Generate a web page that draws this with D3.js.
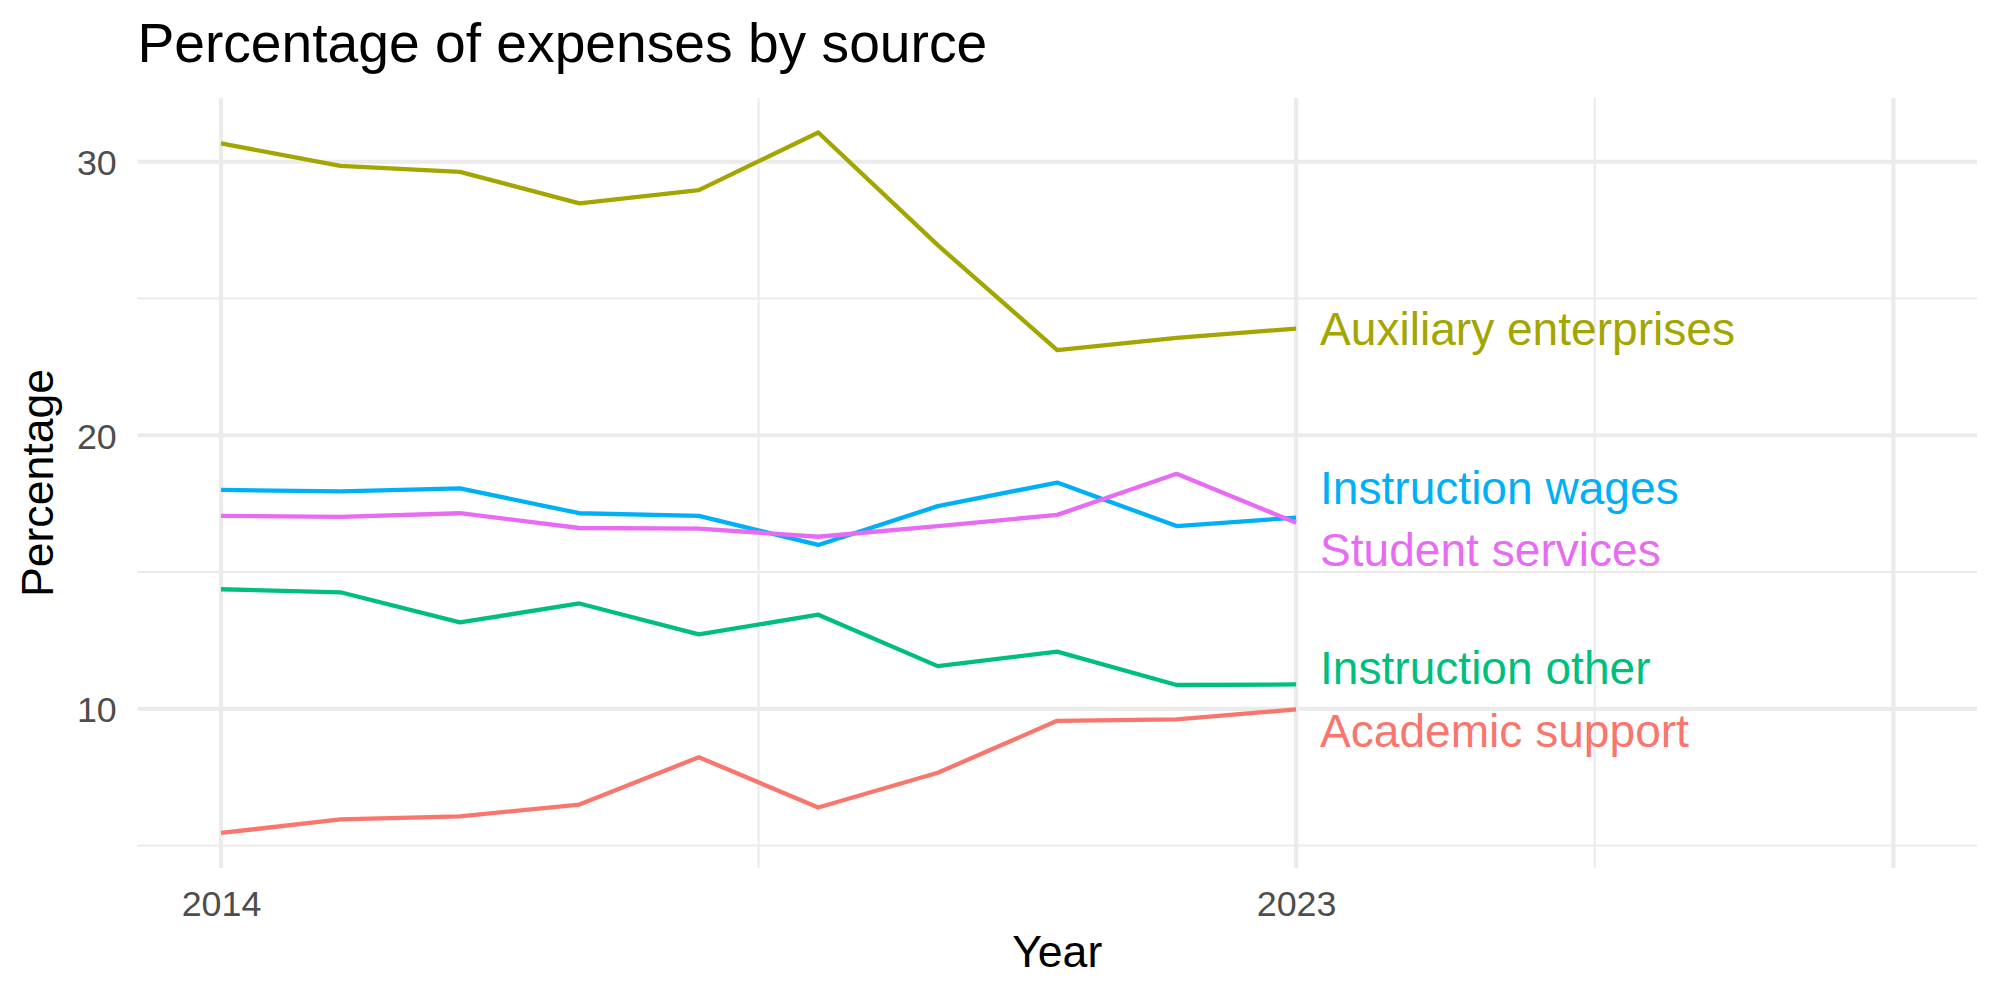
<!DOCTYPE html>
<html>
<head>
<meta charset="utf-8">
<script src="https://cdn.jsdelivr.net/npm/d3@7"></script>
<style>
  body { margin: 0; background: #fff; }
  text { font-family: "Liberation Sans", Arial, Helvetica, sans-serif; }
</style>
</head>
<body>
<svg id="chart"></svg>
<script>
// data
const years = [2014, 2015, 2016, 2017, 2018, 2019, 2020, 2021, 2022, 2023];
const academicSupport      = [5.46, 5.96, 6.07, 6.50, 8.23, 6.39, 7.66, 9.56, 9.61, 9.98];
const auxiliaryEnterprises = [30.67, 29.85, 29.63, 28.48, 28.96, 31.07, 26.95, 23.11, 23.56, 23.90];
const instructionOther     = [14.37, 14.26, 13.16, 13.85, 12.72, 13.44, 11.56, 12.09, 10.87, 10.89];
const instructionWages     = [18.00, 17.95, 18.06, 17.15, 17.05, 15.99, 17.41, 18.27, 16.68, 16.99];
const studentServices      = [17.05, 17.02, 17.15, 16.61, 16.59, 16.29, 16.68, 17.09, 18.59, 16.80];

const seriesNames = ["Academic support", "Auxiliary enterprises", "Instruction other", "Instruction wages", "Student services"];
const seriesValues = [academicSupport, auxiliaryEnterprises, instructionOther, instructionWages, studentServices];
const seriesColors = ["#F8766D", "#A3A500", "#00BF7D", "#00B0F6", "#E76BF3"];
// label positions (data units), set apart so they don't collide
const labelX = 2023.2;
const labelY = [9.22, 23.89, 11.52, 18.10, 15.83];

const xMajor = [2014, 2023, 2028];
const xMinor = [2018.5, 2025.5];
const xLabels = [2014, 2023];
const yMajor = [10, 20, 30];
const yMinor = [5, 15, 25];

// SVG setup
const width = 2000, height = 1000;
const svg = d3.select("#chart").attr("width", width).attr("height", height);

const panel = { left: 137.4, right: 1977, top: 98, bottom: 868 };

const x = d3.scaleLinear().domain([2013.3, 2028.7]).range([panel.left, panel.right]);
const y = d3.scaleLinear().domain([4.18, 32.33]).range([panel.bottom, panel.top]);

// grid
const grid = svg.append("g");
grid.selectAll(".ymin").data(yMinor).join("line")
  .attr("x1", panel.left).attr("x2", panel.right)
  .attr("y1", d => y(d)).attr("y2", d => y(d))
  .attr("stroke", "#EBEBEB").attr("stroke-width", 2.1);
grid.selectAll(".xmin").data(xMinor).join("line")
  .attr("x1", d => x(d)).attr("x2", d => x(d))
  .attr("y1", panel.top).attr("y2", panel.bottom)
  .attr("stroke", "#EBEBEB").attr("stroke-width", 2.1);
grid.selectAll(".ymaj").data(yMajor).join("line")
  .attr("x1", panel.left).attr("x2", panel.right)
  .attr("y1", d => y(d)).attr("y2", d => y(d))
  .attr("stroke", "#EBEBEB").attr("stroke-width", 4.2);
grid.selectAll(".xmaj").data(xMajor).join("line")
  .attr("x1", d => x(d)).attr("x2", d => x(d))
  .attr("y1", panel.top).attr("y2", panel.bottom)
  .attr("stroke", "#EBEBEB").attr("stroke-width", 4.2);

// axes (labels only)
const yAxis = svg.append("g")
  .attr("transform", `translate(${panel.left},0)`)
  .call(d3.axisLeft(y).tickValues(yMajor).tickSize(0).tickPadding(20.7));
const xAxis = svg.append("g")
  .attr("transform", `translate(0,${panel.bottom})`)
  .call(d3.axisBottom(x).tickValues(xLabels).tickFormat(d3.format("d")).tickSize(0));
[yAxis, xAxis].forEach(a => {
  a.select(".domain").remove();
  a.attr("font-family", null).attr("font-size", null);
  a.selectAll("text").attr("fill", "#4D4D4D").style("font-size", "35.8px");
});
yAxis.selectAll("text").attr("dy", "0.358em");
xAxis.selectAll("text").attr("y", 47.7).attr("dy", 0);

// lines
const line = d3.line().x((d, i) => x(years[i])).y(d => y(d));
svg.append("g").selectAll("path").data(seriesValues).join("path")
  .attr("d", line)
  .attr("fill", "none")
  .attr("stroke", (d, i) => seriesColors[i])
  .attr("stroke-width", 4.3)
  .attr("stroke-linejoin", "round");

// direct labels
svg.append("g").selectAll("text").data(seriesNames).join("text")
  .attr("x", x(labelX))
  .attr("y", (d, i) => y(labelY[i]))
  .attr("dy", "0.358em")
  .attr("fill", (d, i) => seriesColors[i])
  .style("font-size", "46.1px")
  .text(d => d);

// titles
svg.append("text")
  .attr("x", panel.left).attr("y", 62.3)
  .style("font-size", "55.2px").attr("fill", "#000")
  .text("Percentage of expenses by source");

svg.append("text")
  .attr("x", (panel.left + panel.right) / 2).attr("y", 966.7)
  .attr("text-anchor", "middle")
  .style("font-size", "44.6px").attr("fill", "#000")
  .text("Year");

svg.append("text")
  .attr("transform", `translate(53,${(panel.top + panel.bottom) / 2}) rotate(-90)`)
  .attr("text-anchor", "middle")
  .style("font-size", "44.6px").attr("fill", "#000")
  .text("Percentage");
</script>
</body>
</html>
